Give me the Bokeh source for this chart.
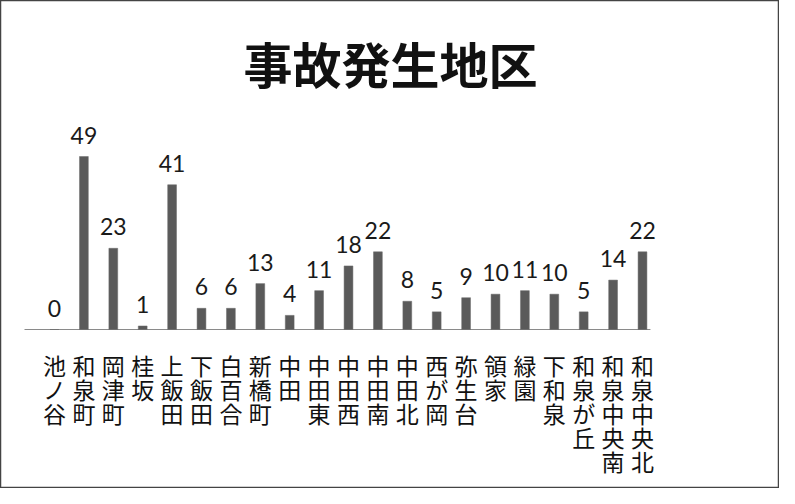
from bokeh.plotting import figure
from bokeh.models import ColumnDataSource, Range1d, Label
from bokeh.core.properties import value
from bokeh.embed import file_html
from bokeh.resources import INLINE

categories = ["池ノ谷", "和泉町", "岡津町", "桂坂", "上飯田", "下飯田", "白百合", "新橋町",
              "中田", "中田東", "中田西", "中田南", "中田北", "西が岡", "弥生台", "領家",
              "緑園", "下和泉", "和泉が丘", "和泉中央南", "和泉中央北"]
counts = [0, 49, 23, 1, 41, 6, 6, 13, 4, 11, 18, 22, 8, 5, 9, 10, 11, 10, 5, 14, 22]
title_text = "事故発生地区"

W, H = 779, 488
PX_CAT = 29.4      # pixels per category
PX_UNIT = 3.53     # pixels per count unit
X0_PX = 54         # local x of first category center
BASE_PX = 329      # local y of baseline from top

xs = list(range(len(categories)))
src = ColumnDataSource(dict(
    x=xs,
    top=counts,
    lab=[str(c) for c in counts],
    lab_y=[c + 13 / PX_UNIT for c in counts],
    cat=["\n".join(list(c)) for c in categories],
    cat_y=[-(18 / PX_UNIT)] * len(categories),
))

p = figure(width=W, height=H, output_backend="svg", toolbar_location=None,
           min_border=0, min_border_left=0, min_border_right=0,
           min_border_top=0, min_border_bottom=0)
p.x_range = Range1d(-X0_PX / PX_CAT, (W - X0_PX) / PX_CAT)
p.y_range = Range1d(-(H - BASE_PX) / PX_UNIT, BASE_PX / PX_UNIT)
p.axis.visible = False
p.grid.visible = False
p.outline_line_color = "#444444"
p.outline_line_width = 1.5
p.background_fill_color = "white"
p.border_fill_color = "white"

# baseline
p.segment(x0=[-1.02], y0=[0], x1=[20.27], y1=[0], line_color="#8a8a8a", line_width=1.2)

p.vbar(x="x", top="top", bottom=0, width=0.3, source=src,
       fill_color="#5a5a5a", line_color="#6a6a6a", line_width=0.5)

p.text(x="x", y="lab_y", text="lab", source=src, text_align="center",
       text_baseline="bottom", text_font=value("Lato"), text_font_size="23px",
       text_color="#1a1a1a")

p.text(x="x", y="cat_y", text="cat", source=src, text_align="center",
       text_baseline="top", text_font=value("Noto Sans CJK JP"), text_font_size="23px",
       text_line_height=0.71, text_color="#111111")

p.add_layout(Label(x=390, y=H - 62, x_units="screen", y_units="screen", text=title_text,
                   text_align="center", text_baseline="middle",
                   text_font="Noto Sans CJK JP", text_font_size="49px",
                   text_font_style="bold", text_color="#111111"))

open("out.html", "w").write(file_html(p, INLINE))
